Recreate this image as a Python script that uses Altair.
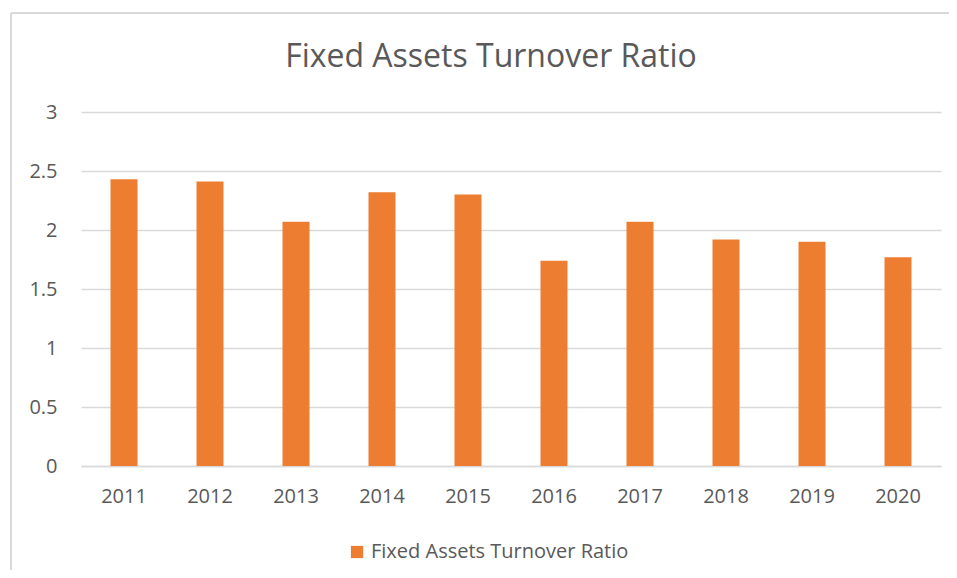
import altair as alt
import pandas as pd

years = ["2011", "2012", "2013", "2014", "2015", "2016", "2017", "2018", "2019", "2020"]
ratios = [2.43, 2.41, 2.07, 2.32, 2.30, 1.74, 2.07, 1.92, 1.90, 1.77]
series = "Fixed Assets Turnover Ratio"

df = pd.DataFrame({"year": years, "ratio": ratios, "series": [series] * len(years)})

FONT = "Open Sans"
GREY = "#595959"

bars = alt.Chart(df).mark_bar(color="#ED7D31").encode(
    x=alt.X("year:N", title=None,
            scale=alt.Scale(paddingInner=0.686, paddingOuter=0.343),
            axis=alt.Axis(labelAngle=0, labelFontSize=20, labelColor=GREY, labelFont=FONT,
                          ticks=False, domainColor="#d9d9d9", domainWidth=1.5, labelPadding=20)),
    y=alt.Y("ratio:Q", title=None,
            scale=alt.Scale(domain=[0, 3]),
            axis=alt.Axis(values=[0, 0.5, 1, 1.5, 2, 2.5, 3], format="~g", labelFontSize=20,
                          labelColor=GREY, labelFont=FONT, ticks=False, domain=False,
                          gridColor="#d9d9d9", gridWidth=1.5, labelPadding=24)),
    color=alt.Color("series:N", scale=alt.Scale(range=["#ED7D31"]),
                    legend=alt.Legend(title=None, orient="none", legendX=266, legendY=430,
                                      symbolType="square", symbolSize=150, labelFontSize=20,
                                      labelLimit=500, labelFont=FONT, labelColor=GREY,
                                      symbolStrokeWidth=0)),
)

title = alt.Chart(pd.DataFrame({"t": [series]})).mark_text(
    font=FONT, fontSize=32, color=GREY, align="center", baseline="middle"
).encode(text="t:N", x=alt.value(410), y=alt.value(-55))

border_left = alt.Chart(df).mark_rule(color="#d9d9d9", strokeWidth=1.5, clip=False).encode(
    x=alt.value(-70), y=alt.value(-99), y2=alt.value(480))
border_top = alt.Chart(df).mark_rule(color="#d9d9d9", strokeWidth=1.5, clip=False).encode(
    x=alt.value(-70), x2=alt.value(960), y=alt.value(-99))

chart = alt.layer(border_left, border_top, title, bars).properties(
    width=860, height=354,
    padding={"left": 73, "top": 104, "right": 8, "bottom": 104},
    autosize=alt.AutoSizeParams(type="none"),
).configure_view(stroke=None)

chart.save("out.html", embed_options={"renderer": "svg", "actions": False})
